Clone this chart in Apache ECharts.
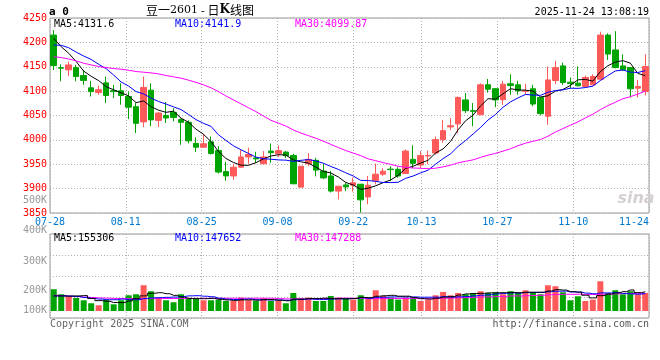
<!DOCTYPE html>
<html><head><meta charset="utf-8">
<script src="https://cdn.jsdelivr.net/npm/echarts@6/dist/echarts.min.js"></script>
<style>html,body{margin:0;padding:0;background:#fff}#c{width:660px;height:360px}</style>
</head><body><div id="c"></div>
<script>
// ---------------- data ----------------
const dates = ['07-28','07-29','07-30','07-31','08-01','08-04','08-05','08-06','08-07','08-08',
 '08-11','08-12','08-13','08-14','08-15','08-18','08-19','08-20','08-21','08-22',
 '08-25','08-26','08-27','08-28','08-29','09-01','09-02','09-03','09-04','09-05',
 '09-08','09-09','09-10','09-11','09-12','09-15','09-16','09-17','09-18','09-19',
 '09-22','09-23','09-24','09-25','09-26','09-29','09-30','10-09','10-10',
 '10-13','10-14','10-15','10-16','10-17','10-20','10-21','10-22','10-23','10-24',
 '10-27','10-28','10-29','10-30','10-31','11-03','11-04','11-05','11-06','11-07',
 '11-10','11-11','11-12','11-13','11-14','11-17','11-18','11-19','11-20','11-21',
 '11-24'];
const dateTicks = ['07-28','08-11','08-25','09-08','09-22','10-13','10-27','11-10','11-24'];

const opens = [4215,4148,4143.6,4148.3,4132,4106.8,4097,4117,4101,4100.7,
 4089,4068,4036.8,4102,4040,4050,4056.5,4041.5,4036,3992.6,
 3985,3996,3978,3935,3926,3944,3965,3963,3951,3977,
 3971.5,3975,3968,3903,3951,3958,3936,3926,3895,3907.6,
 3907,3909,3883,3916,3929.6,3940,3939.6,3931,3960,3948.4,
 3967,3973,4000.6,4026.6,4032.7,4082,4060,4051.8,4113,4105,
 4082.4,4115,4113,4100,4104.8,4087,4048.4,4121.8,4151.7,4118.4,
 4116.4,4109.6,4113,4124.5,4215,4184.4,4151.7,4148.3,4106,4099.4];
const closes = [4152.4,4147,4153.8,4130,4122,4099,4103,4091,4099,4091,
 4067,4034,4107.5,4041,4055,4045,4046,4036,3998,3985,
 3992,3972,3934,3926,3944,3965,3970,3961,3965,3973.6,
 3978,3967.4,3910,3946,3960,3938,3922,3895,3905,3903.5,
 3912,3877,3907,3929.6,3935.7,3939,3926,3977,3952,3968,
 3968,4000.6,4019,4029,4087,4060,4058.6,4113,4104,4082,
 4114.3,4111.6,4100.7,4101,4073.5,4053.8,4123,4148.3,4117.7,4115.7,
 4111,4128,4130,4215,4176,4148.3,4143.6,4104.8,4109.6,4150.4];
const lows = [4143.6,4120,4131,4120,4113,4089,4092.5,4075.6,4086,4072,
 4043,4014,4026,4028,4026,4034.6,4038,3990,3993,3975,
 3983.5,3970,3931,3916,3918,3943,3951,3952.5,3951,3953,
 3965,3963,3909,3903,3946.6,3925,3920,3892,3878,3895,
 3894,3851,3868,3909,3926,3916,3922.5,3931,3941.8,3941.8,
 3950,3969.6,3994,4020,4013.6,4055,4028,4050,4097,4067,
 4072,4092.6,4092.6,4092.6,4068.8,4050.4,4031,4114.3,4113,4104.8,
 4109.6,4107.5,4111.6,4123,4164,4147,4142,4087,4087,4091];
const highs = [4225,4155,4160.6,4154,4143.6,4121,4111,4130,4113,4116,
 4099,4075.6,4130,4115.7,4057,4077.6,4065,4044,4040,4005,
 4012,4007,3987,3955,3951,3980,3984,3975.6,3977,3992.6,
 3988.5,3977,3971.5,3946,3973,3963,3951,3936,3905,3912,
 3922.6,3909,3926,3951,3941.8,3946,3944,3980.6,3989,3977,
 3978,4006.8,4041,4045,4089,4096,4075.6,4116,4125,4106,
 4121,4134.7,4121,4115,4113,4087,4150.4,4162,4158.5,4128,
 4150.4,4132,4134.7,4221.8,4218.4,4223,4175.5,4148.3,4123,4175.5];

const ma5 = [4208.2,4191,4177.6,4160.6,4141,4130.4,4121.6,4109,4102.8,4096.6,
 4090.2,4076.4,4079.7,4068.1,4060.9,4056.5,4058.9,4044.6,4036,4022,
 4011.4,3996.6,3976.2,3961.8,3953.6,3948.2,3947.8,3953.2,3961,3966.9,
 3969.5,3969,3958.8,3955,3952.3,3944.3,3935.2,3932.2,3924,3912.7,
 3907.5,3898.5,3900.9,3905.8,3912.3,3917.7,3927.5,3941.5,3945.9,3952.4,
 3958.2,3973.1,3981.5,3996.9,4020.7,4039.1,4050.7,4069.5,4084.5,4083.5,
 4094.4,4105,4102.5,4101.9,4100.2,4088.1,4090.4,4099.9,4103.3,4111.7,
 4123.1,4124.1,4120.5,4139.9,4152,4159.5,4162.6,4157.5,4136.5,4131.6];
const ma10 = [4194.6,4194,4189,4180,4172,4165,4155,4146,4133,4118.8,
 4110.3,4099,4094.4,4085.5,4078.8,4073.4,4067.7,4062.2,4052.1,4041.5,
 4034,4027.8,4010.4,3998.9,3987.8,3979.8,3972.2,3964.7,3961.4,3960.3,
 3958.9,3958.4,3956,3958,3959.6,3956.9,3952.1,3945.5,3939.5,3932.5,
 3925.9,3916.9,3916.6,3914.9,3912.5,3912.6,3913,3921.2,3925.9,3932.3,
 3937.9,3950.3,3961.5,3971.4,3986.6,3998.7,4011.9,4025.5,4040.7,4052.1,
 4066.8,4077.9,4086,4093.2,4091.9,4091.3,4097.7,4101.2,4102.6,4106,
 4105.6,4107.3,4110.2,4121.6,4131.9,4141.3,4143.4,4139,4138.2,4141.9];
const ma30 = [4170.8,4168.7,4166,4162,4157.2,4153.8,4150.4,4148.3,4146.3,4144.9,
 4142.9,4140.2,4138.8,4137.4,4135.4,4132,4129.3,4126.6,4122.5,4118,
 4113,4107,4099,4090,4082,4074,4066,4058,4049,4040.2,
 4034.4,4028.4,4020.3,4014.1,4008.7,4003.4,3997.3,3990.8,3984.3,3978.1,
 3972.9,3967.7,3961,3957.3,3953.3,3949.8,3945.8,3943.8,3942.3,3941.7,
 3940.9,3941.8,3944.7,3948.1,3952.9,3956,3959,3964.1,3968.7,3972.3,
 3976.9,3981.7,3988,3993.2,3997,4000.8,4007.5,4016,4023.1,4030.1,
 4036.8,4045.1,4052.6,4062.1,4070.1,4077.1,4084.3,4088.6,4093.8,4099.87];

// volume, in thousands of lots
const volK = [166.6,144.3,135.4,127.9,117.6,104.3,95.4,120.7,99.8,117.6,
 139.9,144.3,184.4,157.7,129.6,117.6,108.7,144.3,127.9,125.2,
 117.6,117.6,120.7,114.5,114.5,129.6,117.6,114.5,126.5,114.5,
 117.6,104.3,150.1,126.5,129.6,114.5,114.5,136.8,129.6,125.2,
 120.7,139.9,129.6,162.1,136.8,129.6,120.7,129.6,129.6,114.5,
 120.7,139.9,154.6,139.9,150.1,144.3,150.1,157.7,150.1,153.2,
 144.3,157.7,150.1,162.1,153.2,144.3,184.4,179.9,153.2,117.6,
 135.4,114.5,120.7,202.2,150.1,162.1,144.3,157.7,144.3,150.1];
const volMa5K = [137,137,136,137,138.4,125.9,116.1,113.2,107.6,107.6,
 114.7,124.5,137.2,148.8,151.2,146.7,139.6,131.6,125.6,124.7,
 124.7,126.5,121.8,119.1,117,119.4,119.4,118.1,120.5,120.5,
 118.1,115.5,122.6,122.6,125.6,125,127,124.4,125,124.1,
 125.4,130.4,129,135.5,137.8,139.6,135.8,135.8,129.3,124.8,
 123,126.9,131.9,133.9,141,145.8,147.8,148.4,150.5,151.1,
 151.1,152.6,151.1,153.5,153.5,153.5,158.8,164.8,163,155.9,
 154.1,140.1,128.3,138.1,144.6,149.9,155.9,163.3,151.7,155.3];
const volMa10K = [137,137,136,134,130,126,123,120,120,123,
 120.3,120.3,125.2,128.2,129.4,130.7,132,134.4,137.2,138,
 135.7,133.1,126.7,122.4,120.9,122.1,123,120,119.8,118.8,
 118.8,117.4,120.4,121.6,123.1,121.6,121.3,123.5,123.8,124.9,
 125.2,128.7,126.7,130.3,131,132.5,133.1,132.4,132.4,131.3,
 131.3,131.3,133.8,131.6,132.9,134.4,137.3,140.1,142.2,146.1,
 148.4,150.2,149.8,152,152.3,152.3,155.7,157.9,158.2,154.7,
 153.8,149.5,146.5,150.5,150.2,152,148,145.8,144.9,147.7];
const volMa30K = [140,138,136,134,132,130,128,127,125.5,125,
 124.8,124.6,124.8,125,125.2,125.4,125.5,125.6,125.8,126,
 126.2,126.3,126.4,126.5,126.5,126.6,126.6,126.7,126.7,126.6,
 124.9,123.6,124.1,124,124.4,124.8,125.4,126,126.9,127.2,
 126.6,126.4,124.6,124.7,125,125.4,125.8,125.3,125.3,125,
 125.1,125.8,127,127.8,129,129.5,130.6,132,132.8,134.1,
 135,136.8,136.8,137.9,138.7,139.7,142,143.5,144.3,144,
 144.5,143.7,143.4,144.7,145.1,146.2,147,148,148.4,147.3];

const volAxisLabels = ['100K','200K','300K','400K','500K'];
const legendMain = ['MA5:4131.6','MA10:4141.9','MA30:4099.87'];
const legendVol = ['MA5:155306','MA10:147652','MA30:147288'];
const titleParts = ['豆一','2601',' - 日','K','线图'];
const timeStamp = '2025-11-24 13:08:19';

// ---------------- layout / styles ----------------
const volLabelLift = [8, 28, 57, 88, 118]; // px above the volume frame bottom (Sina places these freely)
const MONO = "'DejaVu Sans Mono', monospace";
const RED = '#ff5a5a', GREEN = '#00a400';
const MA_COLORS = ['#000000', '#0000ff', '#ff00ff'];
const dotted = {color: '#b0b0b0', width: 1, type: [1, 2]};
const isTick = (i, v) => dateTicks.indexOf(v) >= 0;
const gridBase = {left: 50, right: 11, outerBoundsMode: 'none', containLabel: false};

const chart = echarts.init(document.getElementById('c'), null, {renderer: 'canvas', width: 660, height: 360});

const lineSeries = (data, color, xi, yi, extra) => Object.assign({
  type: 'line', xAxisIndex: xi, yAxisIndex: yi, data: data, symbol: 'none', showSymbol: false,
  lineStyle: {color: color, width: 1}, itemStyle: {color: color}, z: 5, silent: true, animation: false
}, extra || {});

const txt = (x, y, text, fill, align, font) => ({
  type: 'text', x: x, y: y, silent: true, z: 100,
  style: {text: text, fill: fill, font: font || ('10px ' + MONO), align: align || 'left', textAlign: align || 'left',
          verticalAlign: 'middle', textVerticalAlign: 'middle'}
});

const option = {
  animation: false,
  backgroundColor: '#ffffff',
  grid: [
    Object.assign({top: 18, height: 195, show: true, borderColor: '#999', borderWidth: 1}, gridBase),
    Object.assign({top: 234, height: 77}, gridBase),
    Object.assign({top: 234, height: 84, show: true, borderColor: '#999', borderWidth: 1}, gridBase),
    Object.assign({top: 198, height: 120}, gridBase)
  ],
  xAxis: [
    {type: 'category', gridIndex: 0, data: dates, boundaryGap: true, show: false, position: 'top'},
    {type: 'category', gridIndex: 0, data: dates, boundaryGap: false, position: 'bottom', offset: 0,
     axisLine: {show: false}, axisTick: {show: false},
     axisLabel: {interval: isTick, color: '#0078d0', fontFamily: MONO, fontSize: 10, margin: 4,
                 alignMaxLabel: 'right', showMaxLabel: true, showMinLabel: true},
     splitLine: {show: true, interval: isTick, lineStyle: dotted}},
    {type: 'category', gridIndex: 1, data: dates, boundaryGap: true, show: false},
    {type: 'category', gridIndex: 2, data: dates, boundaryGap: false, position: 'bottom',
     axisLine: {show: false}, axisTick: {show: false}, axisLabel: {show: false},
     splitLine: {show: true, interval: isTick, lineStyle: dotted}},
    {type: 'category', gridIndex: 3, data: dates, show: false}
  ],
  yAxis: [
    {type: 'value', gridIndex: 0, min: 3850, max: 4250, interval: 50,
     axisLine: {show: false}, axisTick: {show: false},
     axisLabel: {color: '#ff0000', fontFamily: MONO, fontSize: 10, margin: 3, formatter: v => String(v)},
     splitLine: {show: true, lineStyle: dotted}},
    {type: 'value', gridIndex: 1, min: 70, max: 412, show: false, splitLine: {show: false}},
    {type: 'value', gridIndex: 2, min: 0, max: 4, interval: 1,
     axisLine: {show: false}, axisTick: {show: false}, axisLabel: {show: false},
     splitLine: {show: true, lineStyle: dotted}},
    {type: 'value', gridIndex: 3, min: 0, max: 120, interval: 1,
     axisLine: {show: false}, axisTick: {show: false}, splitLine: {show: false},
     axisLabel: {color: '#999999', fontFamily: MONO, fontSize: 10, margin: 3,
                 formatter: v => { const k = volLabelLift.indexOf(v); return k >= 0 ? volAxisLabels[k] : ''; }}}
  ],
  series: [
    {type: 'candlestick', xAxisIndex: 0, yAxisIndex: 0, barWidth: 6, z: 3, silent: true,
     data: dates.map((d, i) => [opens[i], closes[i], lows[i], highs[i]]),
     itemStyle: {color: RED, color0: GREEN, borderColor: RED, borderColor0: GREEN, borderWidth: 1}},
    lineSeries(ma5, MA_COLORS[0], 0, 0),
    lineSeries(ma10, MA_COLORS[1], 0, 0),
    lineSeries(ma30, MA_COLORS[2], 0, 0),
    {type: 'bar', xAxisIndex: 2, yAxisIndex: 1, barWidth: 6, clip: true, silent: true, z: 3,
     data: volK.map((v, i) => ({value: v, itemStyle: {color: closes[i] >= opens[i] ? RED : GREEN}}))},
    lineSeries(volMa30K, MA_COLORS[2], 2, 1, {step: 'middle'}),
    lineSeries(volMa10K, MA_COLORS[1], 2, 1, {step: 'middle'}),
    lineSeries(volMa5K, MA_COLORS[0], 2, 1, {step: 'middle'})
  ],
  graphic: [
    txt(49, 12, 'a 0', '#000', 'left', "bold 11px " + MONO),
    {type: 'text', x: 200, y: 10, silent: true, z: 100,
     style: {text: '{a|' + titleParts[0] + '}{b|' + titleParts[1] + '}{a|' + titleParts[2] + '}{k|' + titleParts[3] + '}{a|' + titleParts[4] + '}',
             align: 'center', textAlign: 'center', verticalAlign: 'middle', textVerticalAlign: 'middle',
             rich: {a: {fontFamily: "'Noto Sans CJK SC'", fontSize: 12, color: '#000'},
                    b: {fontFamily: "'DejaVu Serif'", fontSize: 11, color: '#555'},
                    k: {fontFamily: "'DejaVu Serif'", fontSize: 12, fontWeight: 'bold', color: '#000'}}}},
    txt(649, 12, timeStamp, '#000', 'right'),
    txt(54, 24, legendMain[0], MA_COLORS[0]),
    txt(175, 24, legendMain[1], MA_COLORS[1]),
    txt(295, 24, legendMain[2], MA_COLORS[2]),
    txt(54, 238, legendVol[0], MA_COLORS[0]),
    txt(175, 238, legendVol[1], MA_COLORS[1]),
    txt(295, 238, legendVol[2], MA_COLORS[2]),
    txt(50, 324, 'Copyright 2025 SINA.COM', '#666', 'left'),
    txt(649, 324, 'http://finance.sina.com.cn', '#555', 'right'),
    txt(636, 199, 'sina', '#d6d0d0', 'center', "italic bold 16px 'DejaVu Sans'")
  ]
};
chart.setOption(option);
</script>
</body></html>
